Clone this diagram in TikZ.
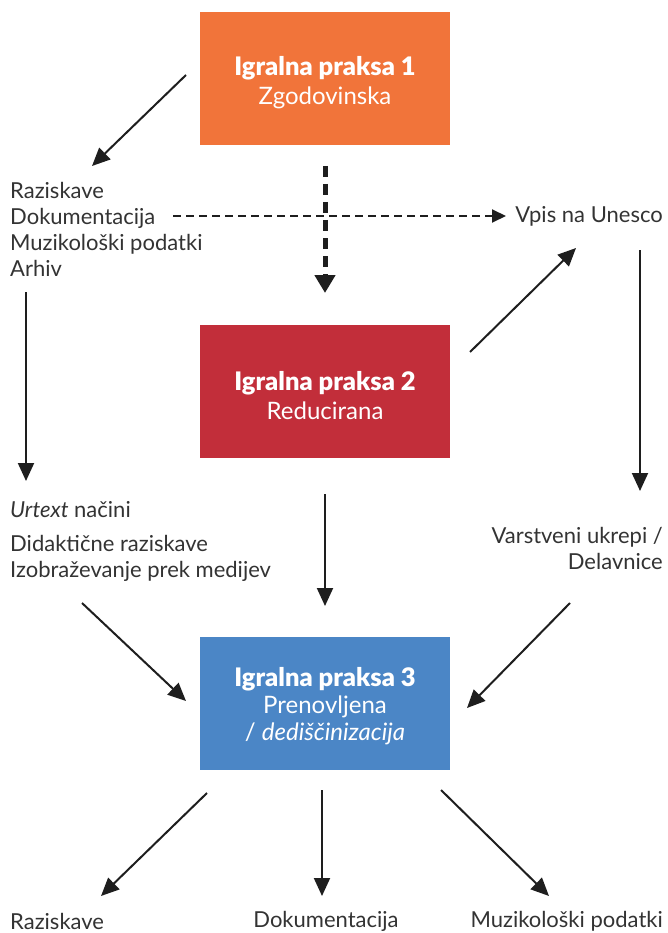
\documentclass[tikz,border=0pt]{standalone}
\usepackage{fontspec}
\setmainfont{Lato}[BoldFont={Lato Black}]
\usetikzlibrary{arrows.meta}
\definecolor{txt}{HTML}{333333}
\definecolor{arr}{HTML}{1E1E1E}
\definecolor{c1}{HTML}{F1743A}
\definecolor{c2}{HTML}{C22E3A}
\definecolor{c3}{HTML}{4B86C6}
\tikzset{
  box/.style={minimum width=250pt,minimum height=133pt,inner sep=0pt},
  boxtxt/.style={inner sep=0pt,text=white,align=center,font=\fontsize{24}{29}\selectfont},
  lbl/.style={text=txt,inner sep=0pt,font=\fontsize{22}{26}\selectfont},
  conn/.style={draw=arr,line width=2pt,-{Triangle[length=18pt,width=16pt]}},
  dconn/.style={draw=arr,line width=2pt,dash pattern=on 8pt off 5pt,-{Triangle[length=14pt,width=13pt]}},
  dthick/.style={draw=arr,line width=5pt,dash pattern=on 11pt off 7pt,-{Triangle[length=18pt,width=20pt]}},
}
\begin{document}
\begin{tikzpicture}[x=1pt,y=-1pt]
\useasboundingbox (0,0) rectangle (667,933);
% boxes
\node[box,fill=c1] (b1) at (325,78.5) {};
\node[box,fill=c2] (b2) at (325,391) {};
\node[box,fill=c3] (b3) at (325,703.5) {};
\node[boxtxt] (t1) at ([yshift=-4.5pt]b1.center) {{\bfseries\fontsize{25.5}{29}\selectfont Igralna praksa 1}\\Zgodovinska};
\node[boxtxt] (t2) at ([yshift=-4.5pt]b2.center) {{\bfseries\fontsize{25.5}{29}\selectfont Igralna praksa 2}\\Reducirana};
\node[boxtxt] (t3) at ([yshift=-2.5pt]b3.center) {{\bfseries\fontsize{25.5}{29}\selectfont Igralna praksa 3}\\[-2pt]Prenovljena\\[-2pt]/ \textit{dediščinizacija}};
% labels
\node[lbl,anchor=west,align=left] (l1) at (10,229) {Raziskave\\Dokumentacija\\Muzikološki podatki\\Arhiv};
\node[lbl,anchor=east] (unesco) at (663,216) {Vpis na Unesco};
\node[lbl,anchor=west] (urtext) at (10,510) {\textit{Urtext} načini};
\node[lbl,anchor=west,align=left] (did) at (10,558) {Didaktične raziskave\\Izobraževanje prek medijev};
\node[lbl,anchor=east,align=right] (varst) at (663,548) {Varstveni ukrepi /\\Delavnice};
\node[lbl,anchor=west] (r1) at (10,921) {Raziskave};
\node[lbl] (r2) at (326,921) {Dokumentacija};
\node[lbl,anchor=east] (r3) at (663,921) {Muzikološki podatki};
% connector end points
\coordinate (a1s) at (186,75); \coordinate (a1e) at (92,166);
\coordinate (a2s) at (325,166); \coordinate (a2e) at (325,293);
\coordinate (a3s) at (173,216); \coordinate (a3e) at (506,216);
\coordinate (a4s) at (26,292); \coordinate (a4e) at (26,481);
\coordinate (a5s) at (470,352); \coordinate (a5e) at (576,248);
\coordinate (a6s) at (640,250); \coordinate (a6e) at (640,491);
\coordinate (a7s) at (325,494); \coordinate (a7e) at (325,606);
\coordinate (a8s) at (82,603); \coordinate (a8e) at (186,701);
\coordinate (a9s) at (570,603); \coordinate (a9e) at (467,708);
\coordinate (a10s) at (207,793); \coordinate (a10e) at (101,896);
\coordinate (a11s) at (322,790); \coordinate (a11e) at (322,896);
\coordinate (a12s) at (441,790); \coordinate (a12e) at (549,896);
% connectors
\draw[conn] (a1s) -- (a1e);
\draw[dconn] (a3s) -- (a3e);
\draw[dthick] (a2s) -- (a2e);
\draw[conn] (a4s) -- (a4e);
\draw[conn] (a5s) -- (a5e);
\draw[conn] (a6s) -- (a6e);
\draw[conn] (a7s) -- (a7e);
\draw[conn] (a8s) -- (a8e);
\draw[conn] (a9s) -- (a9e);
\draw[conn] (a10s) -- (a10e);
\draw[conn] (a11s) -- (a11e);
\draw[conn] (a12s) -- (a12e);
\end{tikzpicture}
\end{document}
